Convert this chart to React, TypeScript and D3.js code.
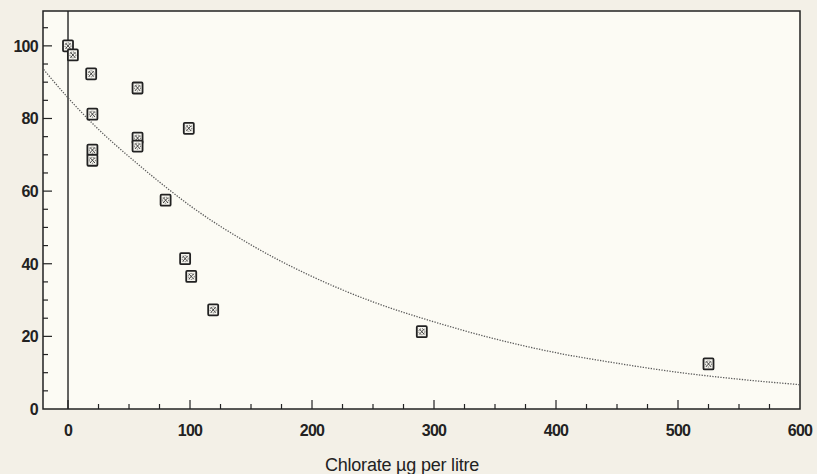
import React, { useEffect, useRef } from 'react';
import * as d3 from 'd3';

// measured points (chlorate ug/l vs response %)
const chlorate = [0, 4, 19, 20, 20, 20, 57, 57, 57, 99, 80, 96, 101, 119, 290, 525];
const response = [100, 97.5, 92.3, 81.2, 71.3, 68.5, 88.4, 74.6, 72.4, 77.3, 57.5, 41.4, 36.5, 27.3, 21.3, 12.4];

// fitted curve
const curveX = [-20, 0, 25, 50, 75, 100, 150, 200, 250, 300, 350, 400, 450, 500, 550, 600];
const curveY = [93.5, 85.7, 77, 69.5, 62.5, 56, 45.2, 36.5, 29.5, 24, 19.3, 15.5, 12.6, 10.1, 8.2, 6.7];

const xTicks = [0, 100, 200, 300, 400, 500, 600];
const yTicks = [0, 20, 40, 60, 80, 100];
const xTitle = 'Chlorate µg per litre';

const App = () => {
  const svgRef = useRef<SVGSVGElement>(null);

  useEffect(() => {
    const width = 817;
    const height = 474;
    const left = 43, right = 800, top = 11, bottom = 409;
    const ink = '#222';
    const font = '"Liberation Sans", Arial, sans-serif';

    const svg = d3.select(svgRef.current);
    svg.selectAll('*').remove();
    svg.attr('width', width).attr('height', height);

    svg.append('rect').attr('width', width).attr('height', height).attr('fill', '#f3f0e7');

    const x = d3.scaleLinear().domain([-20.5, 600]).range([left, right]);
    const y = d3.scaleLinear().domain([0, 109.6]).range([bottom, top]);

    svg.append('rect')
      .attr('x', left).attr('y', top)
      .attr('width', right - left).attr('height', bottom - top)
      .attr('fill', '#fcfbf4');

    // minor / major ticks, pointing inward
    const g = svg.append('g').attr('stroke', ink).attr('stroke-width', 1.2);
    d3.range(0, 600, 25).forEach((v) => {
      const major = v % 100 === 0;
      g.append('line')
        .attr('x1', x(v)).attr('x2', x(v))
        .attr('y1', bottom).attr('y2', bottom - (major ? 9 : 5));
    });
    d3.range(5, 110, 5).forEach((v) => {
      const major = v % 20 === 0;
      g.append('line')
        .attr('x1', left).attr('x2', left + (major ? 9 : 5))
        .attr('y1', y(v)).attr('y2', y(v));
    });

    // zero line
    svg.append('line')
      .attr('x1', x(0)).attr('x2', x(0))
      .attr('y1', top).attr('y2', bottom)
      .attr('stroke', ink).attr('stroke-width', 1.4);

    // frame
    svg.append('rect')
      .attr('x', left).attr('y', top)
      .attr('width', right - left).attr('height', bottom - top)
      .attr('fill', 'none').attr('stroke', ink).attr('stroke-width', 1.5);

    // tick labels
    svg.append('g').selectAll('text').data(xTicks).enter().append('text')
      .attr('x', (d) => x(d)).attr('y', 436)
      .attr('text-anchor', 'middle')
      .attr('font-family', font).attr('font-size', 16).attr('font-weight', 'bold')
      .attr('letter-spacing', -0.7)
      .attr('fill', ink)
      .text((d) => d);

    svg.append('g').selectAll('text').data(yTicks).enter().append('text')
      .attr('x', 38).attr('y', (d) => y(d) + 6)
      .attr('text-anchor', 'end')
      .attr('font-family', font).attr('font-size', 16).attr('font-weight', 'bold')
      .attr('letter-spacing', -0.7)
      .attr('fill', ink)
      .text((d) => d);

    svg.append('text')
      .attr('x', 402).attr('y', 471)
      .attr('text-anchor', 'middle')
      .attr('font-family', font).attr('font-size', 18).attr('letter-spacing', -0.2)
      .attr('fill', ink)
      .text(xTitle);

    // fitted curve
    const line = d3.line<number>()
      .x((d, i) => x(curveX[i]))
      .y((d) => y(d))
      .curve(d3.curveMonotoneX);
    svg.append('path')
      .attr('d', line(curveY))
      .attr('fill', 'none')
      .attr('stroke', '#5a5a5a')
      .attr('stroke-width', 1.3)
      .attr('stroke-dasharray', '1.3,1.4');

    // markers
    const pts = svg.append('g').selectAll('g').data(chlorate).enter().append('g')
      .attr('transform', (d, i) => `translate(${x(d)},${y(response[i])})`);
    pts.append('rect')
      .attr('x', -5).attr('y', -5.5).attr('width', 10).attr('height', 11)
      .attr('rx', 1)
      .attr('fill', '#f6f5ef').attr('stroke', ink).attr('stroke-width', 1.8);
    pts.append('circle')
      .attr('r', 3)
      .attr('fill', 'none').attr('stroke', '#444').attr('stroke-width', 0.9)
      .attr('stroke-dasharray', '1,1');
    pts.append('path')
      .attr('d', 'M-2.5,-2.8L2.5,2.8M2.5,-2.8L-2.5,2.8')
      .attr('stroke', '#333').attr('stroke-width', 0.9);
  }, []);

  return (
    <svg ref={svgRef} style={{ position: 'absolute', left: 0, top: 0, display: 'block' }}></svg>
  );
};

export default App;
